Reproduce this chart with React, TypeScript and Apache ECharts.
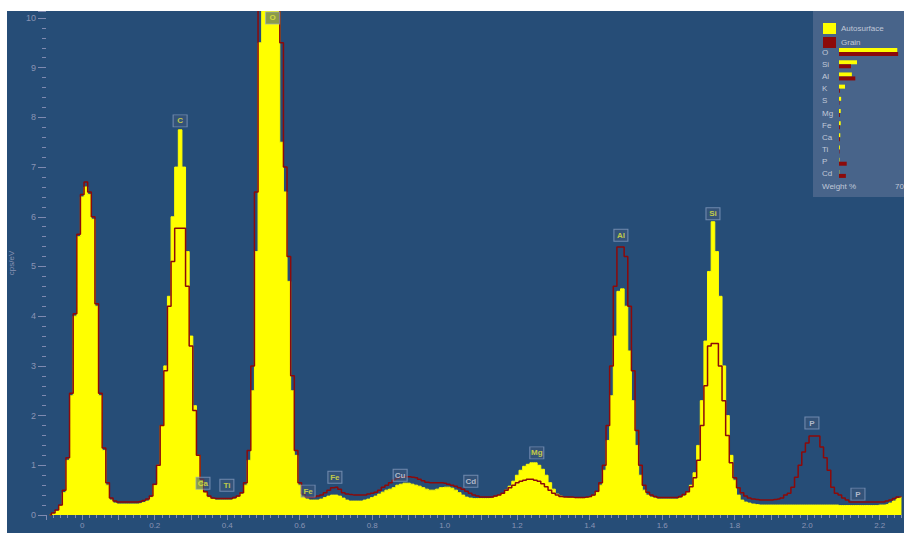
import React, { useEffect, useRef } from "react";
import * as echarts from "echarts";

// Spectrum channels: first channel energy (keV) and channel width (keV)
const START_KEV = -0.09;
const CHANNEL_KEV = 0.01;

// "Autosurface" spectrum (cps/eV), one value per 10 eV channel
const autosurfaceCps = [
  0.0, 0.03, 0.08, 0.18, 0.45, 1.1, 2.4, 4.0, 5.6, 6.4,
  6.6, 6.45, 5.95, 4.2, 2.4, 1.3, 0.6, 0.3, 0.24, 0.22,
  0.22, 0.22, 0.22, 0.22, 0.22, 0.23, 0.25, 0.28, 0.35, 0.6,
  1.0, 1.8, 3.0, 4.4, 6.0, 7.0, 7.75, 7.0, 5.3, 3.6,
  2.2, 1.2, 0.7, 0.45, 0.35, 0.32, 0.3, 0.3, 0.3, 0.3,
  0.3, 0.32, 0.36, 0.42, 0.6, 1.1, 2.5, 5.3, 9.5, 12.5,
  14.0, 14.5, 13.5, 12.0, 7.5, 6.5, 4.7, 2.5, 1.2, 0.6,
  0.38, 0.32, 0.3, 0.3, 0.3, 0.32, 0.35, 0.38, 0.4, 0.4,
  0.38, 0.34, 0.3, 0.28, 0.28, 0.28, 0.28, 0.3, 0.32, 0.35,
  0.38, 0.42, 0.46, 0.5, 0.52, 0.55, 0.6, 0.62, 0.64, 0.64,
  0.62, 0.6, 0.58, 0.55, 0.52, 0.5, 0.5, 0.52, 0.55, 0.56,
  0.56, 0.54, 0.5, 0.45, 0.4, 0.36, 0.34, 0.33, 0.33, 0.33,
  0.33, 0.33, 0.34, 0.36, 0.39, 0.43, 0.5, 0.58, 0.68, 0.8,
  0.9, 0.98, 1.02, 1.05, 1.05, 1.0, 0.92, 0.8, 0.65, 0.52,
  0.42, 0.38, 0.35, 0.34, 0.34, 0.33, 0.33, 0.33, 0.34, 0.35,
  0.38, 0.45, 0.6, 0.9, 1.5, 2.4, 3.6, 4.5, 4.55, 4.2,
  3.3, 2.3, 1.4, 0.8, 0.5, 0.4, 0.36, 0.34, 0.32, 0.32,
  0.32, 0.32, 0.32, 0.32, 0.34, 0.38, 0.45, 0.6, 0.85, 1.4,
  2.3, 3.5, 4.9, 5.9, 5.3, 4.4, 3.0, 2.0, 1.2, 0.7,
  0.4, 0.3, 0.26, 0.24, 0.22, 0.21, 0.2, 0.2, 0.2, 0.2,
  0.2, 0.2, 0.2, 0.2, 0.2, 0.2, 0.2, 0.2, 0.2, 0.2,
  0.2, 0.2, 0.2, 0.2, 0.2, 0.2, 0.2, 0.2, 0.19, 0.19,
  0.19, 0.19, 0.19, 0.19, 0.19, 0.19, 0.19, 0.19, 0.19, 0.2,
  0.2, 0.21, 0.24, 0.28, 0.33, 0.36,
];

// "Grain" spectrum (cps/eV)
const grainCps = [
  0.0, 0.04, 0.1, 0.2, 0.5, 1.15, 2.45, 4.05, 5.65, 6.45,
  6.7, 6.5, 6.0, 4.25, 2.45, 1.35, 0.65, 0.34, 0.28, 0.26,
  0.26, 0.26, 0.26, 0.26, 0.26, 0.27, 0.29, 0.32, 0.38, 0.62,
  1.0, 1.8, 2.9, 4.2, 5.1, 5.77, 5.77, 5.77, 4.6, 3.4,
  2.1, 1.2, 0.72, 0.47, 0.38, 0.34, 0.33, 0.33, 0.33, 0.33,
  0.33, 0.35, 0.38, 0.45, 0.65, 1.3, 3.0, 6.5, 11.0, 13.5,
  15.0, 15.0, 14.0, 12.5, 9.5, 7.0, 5.2, 2.8, 1.3, 0.65,
  0.42, 0.36, 0.35, 0.36, 0.38, 0.4, 0.45, 0.5, 0.55, 0.56,
  0.52, 0.45, 0.42, 0.41, 0.4, 0.4, 0.4, 0.4, 0.42, 0.44,
  0.46, 0.5, 0.56, 0.6, 0.65, 0.7, 0.74, 0.76, 0.77, 0.77,
  0.76, 0.75, 0.72, 0.69, 0.66, 0.65, 0.65, 0.65, 0.65, 0.64,
  0.62, 0.6, 0.58, 0.55, 0.52, 0.48, 0.44, 0.4, 0.38, 0.36,
  0.36, 0.36, 0.36, 0.38, 0.4, 0.44, 0.5, 0.55, 0.6, 0.65,
  0.68, 0.7, 0.72, 0.72, 0.7, 0.68, 0.63, 0.57, 0.5, 0.44,
  0.4, 0.37, 0.36, 0.36, 0.36, 0.35, 0.35, 0.35, 0.36, 0.37,
  0.4, 0.48, 0.65, 1.0, 1.8, 3.0, 4.6, 5.39, 5.39, 5.2,
  4.2, 2.9, 1.7, 1.0, 0.6, 0.46, 0.4, 0.37, 0.35, 0.35,
  0.35, 0.35, 0.35, 0.35, 0.37, 0.41, 0.47, 0.57, 0.75, 1.1,
  1.8, 2.6, 3.4, 3.45, 3.45, 3.0, 2.3, 1.6, 1.05, 0.75,
  0.55, 0.45, 0.38, 0.34, 0.32, 0.31, 0.3, 0.3, 0.3, 0.3,
  0.31, 0.32, 0.34, 0.4, 0.44, 0.56, 0.76, 1.0, 1.27, 1.45,
  1.59, 1.59, 1.59, 1.37, 1.15, 0.9, 0.56, 0.44, 0.4, 0.34,
  0.3, 0.26, 0.26, 0.26, 0.26, 0.26, 0.26, 0.26, 0.26, 0.26,
  0.26, 0.28, 0.3, 0.33, 0.36, 0.37,
];

// Peak identification labels
const peakNames = ["C", "O", "Al", "Si", "Mg", "Fe", "Fe", "Cu", "Cd", "Ca", "Ti", "P", "P"];
const peakKeV = [0.27, 0.525, 1.486, 1.74, 1.254, 0.697, 0.623, 0.877, 1.072, 0.333, 0.399, 2.013, 2.14];
const peakCps = [7.93, 10.0, 5.63, 6.06, 1.25, 0.76, 0.48, 0.8, 0.68, 0.64, 0.6, 1.85, 0.42];
const peakSource = ["A", "A", "A", "A", "A", "A", "A", "G", "G", "A", "A", "G", "G"];

// Weight % mini chart
const elements = ["O", "Si", "Al", "K", "S", "Mg", "Fe", "Ca", "Ti", "P", "Cd"];
const autosurfaceWt = [68, 21, 15, 7, 2.5, 2, 2, 1.5, 1, 0.5, 0.3];
const grainWt = [69, 14, 19, 1, 0.5, 1, 1, 1, 0.5, 9, 8];

const YELLOW = "#ffff00";
const RED = "#8c0a0a";
const AXIS_TXT = "#8a94b4";
const PANEL_TXT = "#c0c8d8";

export default function App() {
  const ref = useRef<HTMLDivElement>(null);

  useEffect(() => {
    const chart = echarts.init(ref.current!, null, { renderer: "svg" });
    const toXY = (arr: number[]) =>
      arr.map((v, i) => [Number((START_KEV + i * CHANNEL_KEV).toFixed(3)), v]);

    chart.setOption({
      animation: false,
      backgroundColor: "#264d77",
      textStyle: { fontFamily: "Liberation Sans, Arial, sans-serif" },
      legend: {
        data: ["Autosurface", "Grain"],
        orient: "vertical",
        left: 811,
        top: 7,
        icon: "rect",
        itemWidth: 13,
        itemHeight: 11,
        itemGap: 3,
        textStyle: { color: PANEL_TXT, fontSize: 8 },
        selectedMode: false,
      },
      grid: [
        { left: 39, right: 0, top: 0, bottom: 18, outerBoundsMode: "none", containLabel: false },
        { left: 832, top: 35, width: 60, height: 134, outerBoundsMode: "none", containLabel: false },
      ],
      xAxis: [
        {
          type: "value",
          gridIndex: 0,
          min: -0.1,
          max: 2.267,
          interval: 0.1,
          axisLine: { show: false, onZero: false },
          axisTick: { show: true, length: 5, lineStyle: { color: "#7f8ab0" } },
          minorTick: { show: true, splitNumber: 5, length: 3, lineStyle: { color: "#7f8ab0" } },
          splitLine: { show: false },
          axisLabel: {
            margin: 6,
            fontSize: 8,
            color: AXIS_TXT,
            showMaxLabel: false,
            formatter: (v: number) => {
              const t = Math.round(v * 10);
              if (t < 0 || t % 2 !== 0 || Math.abs(v * 10 - t) > 1e-6) return "";
              return t === 0 ? "0" : (t / 10).toFixed(1);
            },
          },
        },
        { type: "value", gridIndex: 1, min: 0, max: 70, show: false },
      ],
      yAxis: [
        {
          type: "value",
          gridIndex: 0,
          min: 0,
          max: 10.14,
          interval: 1,
          name: "cps/eV",
          nameLocation: "middle",
          nameGap: 30,
          nameTextStyle: { color: AXIS_TXT, fontSize: 8 },
          axisLine: { show: false, onZero: false },
          axisTick: { show: true, length: 8, lineStyle: { color: "#7f8ab0" } },
          minorTick: { show: true, splitNumber: 5, length: 4, lineStyle: { color: "#7f8ab0" } },
          splitLine: { show: false },
          axisLabel: {
            fontSize: 9,
            color: AXIS_TXT,
            margin: 10,
            formatter: (v: number) =>
              Math.abs(v - Math.round(v)) < 1e-6 ? String(Math.round(v)) : "",
          },
        },
        {
          type: "category",
          gridIndex: 1,
          data: elements,
          inverse: true,
          axisLine: { show: false },
          axisTick: { show: false },
          axisLabel: { align: "left", margin: 17, fontSize: 8, color: PANEL_TXT },
        },
      ],
      graphic: [
        {
          type: "rect",
          shape: { x: 806, y: 0, width: 91, height: 186 },
          style: { fill: "#48648a" },
          z: -1,
        },
        {
          type: "text",
          x: 815,
          y: 175,
          style: { text: "Weight %", fill: PANEL_TXT, fontSize: 8, verticalAlign: "middle" },
        },
        {
          type: "text",
          x: 897,
          y: 175,
          style: { text: "70", fill: PANEL_TXT, fontSize: 8, align: "right", verticalAlign: "middle" },
        },
      ],
      series: [
        {
          name: "Autosurface",
          type: "line",
          xAxisIndex: 0,
          yAxisIndex: 0,
          data: toXY(autosurfaceCps),
          step: "middle",
          symbol: "none",
          color: YELLOW,
          lineStyle: { color: YELLOW, width: 1 },
          areaStyle: { color: YELLOW, opacity: 1 },
          z: 2,
        },
        {
          name: "Grain",
          type: "line",
          xAxisIndex: 0,
          yAxisIndex: 0,
          data: toXY(grainCps),
          step: "middle",
          symbol: "none",
          color: RED,
          lineStyle: { color: RED, width: 1.5 },
          z: 3,
        },
        {
          type: "scatter",
          xAxisIndex: 0,
          yAxisIndex: 0,
          symbol: "rect",
          symbolSize: [14, 12],
          itemStyle: {
            color: "rgba(62,88,124,0.75)",
            borderColor: "rgba(150,170,205,0.8)",
            borderWidth: 1,
          },
          label: {
            show: true,
            position: "inside",
            formatter: "{b}",
            fontSize: 8,
            fontWeight: "bold",
          },
          data: peakNames.map((n, i) => ({
            name: n,
            value: [peakKeV[i], peakCps[i]],
            label: { color: peakSource[i] === "A" ? "#e6e83c" : "#d0d4e0" },
          })),
          z: 5,
        },
        {
          name: "Autosurface",
          type: "bar",
          xAxisIndex: 1,
          yAxisIndex: 1,
          data: autosurfaceWt,
          color: YELLOW,
          barWidth: 4,
          barGap: "0%",
        },
        {
          name: "Grain",
          type: "bar",
          xAxisIndex: 1,
          yAxisIndex: 1,
          data: grainWt,
          color: RED,
          barWidth: 4,
          barGap: "0%",
        },
      ],
    });
    return () => chart.dispose();
  }, []);

  return (
    <div
      ref={ref}
      style={{ position: "absolute", left: 7, top: 11, width: 897, height: 522 }}
    />
  );
}
